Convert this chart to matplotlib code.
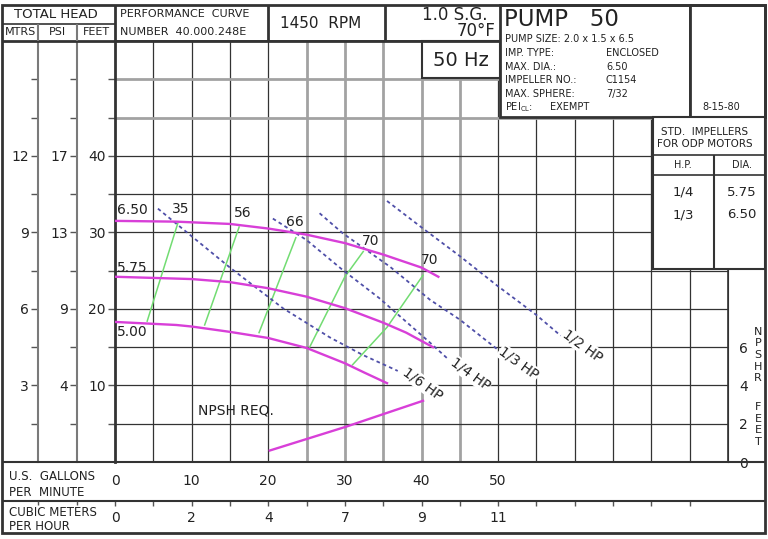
import numpy as np
import matplotlib.pyplot as plt
from matplotlib.patches import Rectangle

# head curves per impeller diameter (US gpm, feet of head)
imp_names = ['6.50', '5.75', '5.00']
imp_gpm = [[0, 8, 15, 20, 25, 30, 35, 40, 42.2],
           [0, 10, 15, 20, 25, 30, 35, 38, 41.5],
           [0, 8, 10, 15, 20, 25, 30, 32.5, 35.5]]
imp_ft = [[31.5, 31.4, 31.1, 30.5, 29.7, 28.6, 27.1, 25.4, 24.2],
          [24.2, 23.9, 23.5, 22.7, 21.6, 20.1, 18.2, 16.9, 15.0],
          [18.3, 17.9, 17.7, 17.0, 16.2, 14.9, 12.9, 11.7, 10.3]]
imp_label_ft = [32.9, 25.4, 17.0]

# efficiency lines
eff_names = ['35', '56', '66', '70', '70']
eff_gpm = [[4.2, 8.2], [11.7, 16.2], [18.8, 23.6], [25.4, 30.0, 32.4], [31.0, 35.5, 40.2]]
eff_ft = [[18.4, 31.2], [17.9, 30.7], [16.9, 29.3], [15.0, 24.2, 27.5], [12.7, 17.6, 24.4]]
eff_label_gpm = [8.6, 16.7, 23.5, 33.4, 41.1]
eff_label_ft = [33.1, 32.5, 31.4, 28.9, 26.4]

# horsepower lines
hp_names = ['1/6 HP', '1/4 HP', '1/3 HP', '1/2 HP']
hp_gpm = [[5.6, 15.0, 21.9, 28.0, 32.3, 36.9],
          [20.6, 25.0, 29.7, 34.5, 41.1, 43.3],
          [26.7, 29.7, 35.9, 41.1, 45.0, 49.8],
          [35.5, 40.2, 45.0, 49.8, 55.0, 58.4]]
hp_ft = [[33.1, 25.4, 20.1, 16.3, 14.0, 11.9],
         [31.8, 29.0, 25.1, 21.4, 15.6, 13.6],
         [32.5, 29.9, 25.5, 21.2, 18.6, 14.8],
         [34.1, 30.5, 26.9, 23.1, 19.2, 16.3]]
hp_label_gpm = [40.2, 46.4, 52.7, 61.0]
hp_label_ft = [10.2, 11.5, 12.9, 15.2]

# NPSH required (feet of NPSH)
npsh_gpm = [20.2, 25, 30.2, 35, 40.2]
npsh_ft = [0.6, 1.2, 1.85, 2.5, 3.2]

# axis scales
feet_ticks = [10, 20, 30, 40]
mtrs_labels = ['3', '6', '9', '12']
psi_labels = ['4', '9', '13', '17']
gpm_ticks = [0, 10, 20, 30, 40, 50]
m3h_labels = ['0', '2', '4', '7', '9', '11']
npsh_ticks = [0, 2, 4, 6]

# standard impellers table
std_hp = ['1/4', '1/3']
std_dia = ['5.75', '6.50']

MAG = '#d83fd8'
GRN = '#72dc72'
BLU = '#4f4fa8'
DARK = '#333333'
GREY = '#a2a2a2'
TXT = '#222222'

W, H = 768, 539
fig = plt.figure(figsize=(W / 100, H / 100), dpi=100)
fig.patch.set_facecolor('white')


def box(x0, y0, x1, y1):
    return [x0 / W, 1 - y1 / H, (x1 - x0) / W, (y1 - y0) / H]


# main chart area
ax = fig.add_axes(box(115, 41, 728, 462), zorder=1)
ax.set_xlim(0, 80)
ax.set_ylim(0, 55)
for g in range(5, 80, 5):
    grey = 25 <= g <= 45
    ax.axvline(g, color=GREY if grey else DARK, lw=2 if grey else 0.9, zorder=0)
for f in range(5, 55, 5):
    grey = f >= 45
    ax.axhline(f, color=GREY if grey else DARK, lw=2 if grey else 0.9, zorder=0)
for s in ax.spines.values():
    s.set_color(DARK)
    s.set_linewidth(1.2)
ax.spines['left'].set_linewidth(2)

ax.set_yticks(feet_ticks, labels=[str(f) for f in feet_ticks])
ax.set_yticks(range(5, 55, 5), minor=True)
ax.tick_params(axis='y', which='both', direction='out', length=5, width=1,
               color='#555555', pad=1.5, labelsize=10, labelcolor=TXT)
ax.set_xticks(gpm_ticks, labels=[str(g) for g in gpm_ticks])
ax.tick_params(axis='x', length=0, pad=8.5, labelsize=10, labelcolor=TXT)

# PSI and MTRS columns
for loc, labs in [(-38 / 613, psi_labels), (-77 / 613, mtrs_labels)]:
    sec = ax.secondary_yaxis(loc)
    sec.set_ticks(feet_ticks, labels=labs)
    sec.set_ticks(range(5, 55, 5), minor=True)
    sec.tick_params(which='both', direction='out', length=5, width=1,
                    color='#555555', pad=1.5, labelsize=10, labelcolor=TXT)
    sec.spines['left'].set_color('#7a7a7a')
    sec.spines['left'].set_linewidth(1.5)

# NPSH scale on the right
nax = ax.secondary_yaxis('right', functions=(lambda f: f / 2.5, lambda n: n * 2.5))
nax.set_ticks(npsh_ticks, labels=[str(n) for n in npsh_ticks])
nax.tick_params(length=0, pad=8, labelsize=10, labelcolor=TXT)
nax.spines['right'].set_color(DARK)

# curves
for g, f in zip(eff_gpm, eff_ft):
    ax.plot(g, f, color=GRN, lw=1.1, zorder=2)
for g, f in zip(hp_gpm, hp_ft):
    ax.plot(g, f, color=BLU, lw=1.3, ls=(0, (2, 1.8)), zorder=2.5)
for g, f in zip(imp_gpm, imp_ft):
    ax.plot(g, f, color=MAG, lw=1.7, zorder=3, solid_joinstyle='round')
ax.plot(npsh_gpm, np.array(npsh_ft) * 2.5, color=MAG, lw=1.7, zorder=3)

for name, f in zip(imp_names, imp_label_ft):
    ax.text(0.25, f, name, ha='left', va='center', fontsize=10, color=TXT, zorder=4)
for name, g, f in zip(eff_names, eff_label_gpm, eff_label_ft):
    ax.text(g, f, name, ha='center', va='center', fontsize=10, color=TXT, zorder=4)
for name, g, f in zip(hp_names, hp_label_gpm, hp_label_ft):
    ax.text(g, f, name, ha='center', va='center', fontsize=10, color=TXT,
            rotation=-36, rotation_mode='anchor', zorder=4,
            bbox=dict(fc='white', ec='none', pad=0.6))
ax.text(10.8, 6.7, 'NPSH REQ.', ha='left', va='center', fontsize=10, color=TXT, zorder=4)

# cubic metres row
axm = fig.add_axes(box(115, 501, 728, 532), zorder=1)
axm.set_xlim(0, 80)
axm.set_ylim(0, 1)
axm.patch.set_alpha(0)
for s in axm.spines.values():
    s.set_visible(False)
axm.set_yticks([])
axm.set_xticks(range(0, 80, 5))
axm.tick_params(axis='x', top=True, bottom=False, direction='in', length=3.5,
                width=1, color='#555555', labelbottom=False)
for g, lab in zip(gpm_ticks, m3h_labels):
    axm.text(g, 0.45, lab, ha='center', va='center', fontsize=10, color=TXT)

# frame, header and tables
fr = fig.add_axes([0, 0, 1, 1], zorder=3)
fr.set_xlim(0, W)
fr.set_ylim(H, 0)
fr.axis('off')
fr.patch.set_alpha(0)


def line(x0, y0, x1, y1, lw=1.5, c=DARK):
    fr.plot([x0, x1], [y0, y1], color=c, lw=lw, solid_capstyle='butt')


def rect(x0, y0, x1, y1, lw=1.5):
    fr.add_patch(Rectangle((x0, y0), x1 - x0, y1 - y0, fc='white', ec=DARK, lw=lw))


def txt(x, y, s, size=8, ha='left', **kw):
    fr.text(x, y, s, ha=ha, va='center', fontsize=size, color=TXT, **kw)


line(2, 41, 500, 41, lw=2)
line(2, 24, 115, 24, lw=1.2)
line(115, 5, 115, 41, lw=2)
line(268, 5, 268, 41, lw=2)
line(385, 5, 385, 41, lw=2)
line(38, 24, 38, 41, lw=1.5, c='#7a7a7a')
line(77, 24, 77, 41, lw=1.5, c='#7a7a7a')
line(2, 462, 765, 462, lw=1.5)
line(2, 501, 765, 501, lw=1.5)
line(38, 501, 38, 505, lw=1, c='#555555')
line(77, 501, 77, 505, lw=1, c='#555555')

rect(422, 41, 500, 78)
rect(500, 5, 690, 117, lw=2)
rect(690, 5, 765, 117, lw=2)
rect(653, 117, 765, 269)
line(653, 155, 765, 155, lw=1.2)
line(653, 175, 765, 175, lw=1.2)
line(714, 155, 714, 269, lw=1.5)

fr.add_patch(Rectangle((2, 5), 763, 528, fc='none', ec=DARK, lw=2))

txt(56, 14.5, 'TOTAL HEAD', 9.5, ha='center')
txt(20, 32, 'MTRS', 8, ha='center')
txt(57.5, 32, 'PSI', 8, ha='center')
txt(96, 32, 'FEET', 8, ha='center')
txt(120, 14, 'PERFORMANCE  CURVE', 8)
txt(120, 32, 'NUMBER  40.000.248E', 8)
txt(321, 23.5, '1450  RPM', 11, ha='center')
txt(488, 15, '1.0 S.G.', 12, ha='right')
txt(496, 31, '70°F', 12, ha='right')
txt(461, 60, '50 Hz', 14, ha='center')

txt(504, 20, 'PUMP   50', 16.5)
txt(505, 38.5, 'PUMP SIZE: 2.0 x 1.5 x 6.5', 7)
pump_keys = ['IMP. TYPE:', 'MAX. DIA.:', 'IMPELLER NO.:', 'MAX. SPHERE:']
pump_vals = ['ENCLOSED', '6.50', 'C1154', '7/32']
for i, (k, v) in enumerate(zip(pump_keys, pump_vals)):
    txt(505, 53 + 13.7 * i, k, 7)
    txt(606, 53 + 13.7 * i, v, 7)
txt(505, 107, r'PEI$_{\mathregular{CL}}$:', 7)
txt(550, 107, 'EXEMPT', 7)
txt(702, 107, '8-15-80', 7)

txt(705, 132, 'STD.  IMPELLERS', 7.5, ha='center')
txt(705, 144, 'FOR ODP MOTORS', 7.5, ha='center')
txt(683, 165, 'H.P.', 7, ha='center')
txt(742, 165, 'DIA.', 7, ha='center')
for i, (h, d) in enumerate(zip(std_hp, std_dia)):
    txt(683, 192 + 22.5 * i, h, 9.5, ha='center')
    txt(742, 192 + 22.5 * i, d, 9.5, ha='center')

for i, ch in enumerate('NPSHR'):
    txt(758, 332 + 11.5 * i, ch, 8, ha='center')
for i, ch in enumerate('FEET'):
    txt(758, 407 + 11.7 * i, ch, 8, ha='center')

txt(9, 477, 'U.S.  GALLONS', 8.5)
txt(9, 492, 'PER  MINUTE', 8.5)
txt(9, 512, 'CUBIC METERS', 8.5)
txt(9, 526, 'PER HOUR', 8.5)

fig.savefig('out.png', dpi=100, facecolor='white')
